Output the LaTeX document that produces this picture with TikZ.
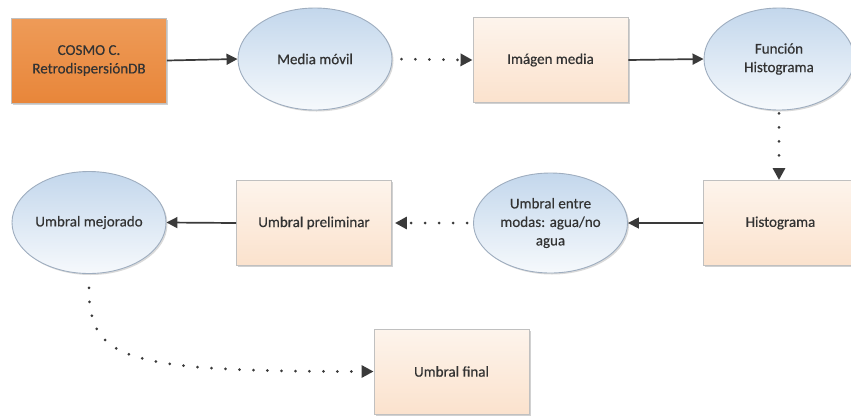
\documentclass[tikz,border=0pt]{standalone}
\usepackage{fontspec}
\setmainfont{Carlito}
\newfontfamily\labelfont[FakeBold=0.35]{Carlito}
\usetikzlibrary{arrows.meta,shadows,shapes.geometric}

\definecolor{txt}{HTML}{333333}
\definecolor{wire}{HTML}{3A3A3A}
\definecolor{boxline}{HTML}{C0C0C0}
\definecolor{boxtop}{HTML}{FDF4EC}
\definecolor{boxbot}{HTML}{FBE2CD}
\definecolor{elline}{HTML}{9EADBF}
\definecolor{eltop}{HTML}{C3D7EC}
\definecolor{elbot}{HTML}{F6F9FC}
\definecolor{ortop}{HTML}{EE9B58}
\definecolor{ormid}{HTML}{F6C193}
\definecolor{orbot}{HTML}{E8863A}

\tikzset{
  basefont/.style={font=\labelfont\fontsize{15}{18.5}\selectfont, text=txt, align=center},
  procbox/.style={basefont, rectangle, draw=boxline, line width=0.9pt,
    minimum width=155, minimum height=85, inner sep=2pt,
    top color=boxtop, bottom color=boxbot,
    drop shadow={shadow xshift=1.5pt, shadow yshift=-1.5pt, opacity=0.18, fill=black}},
  srcbox/.style={procbox, top color=ortop, middle color=ormid, bottom color=orbot},
  opell/.style={basefont, ellipse, draw=elline, line width=0.9pt,
    minimum width=154, minimum height=102, inner sep=0pt,
    top color=eltop, bottom color=elbot,
    drop shadow={shadow xshift=1.5pt, shadow yshift=-1.5pt, opacity=0.15, fill=black}},
  solidarrow/.style={draw=wire, line width=1.7pt, -{Triangle[length=11pt,width=11pt]}},
  dotarrow/.style={draw=wire, line width=3pt, line cap=round,
    dash pattern=on 0pt off 14pt, -{Triangle[length=12pt,width=12pt]}},
}

\begin{document}
\begin{tikzpicture}[x=1pt,y=-1pt]
  \useasboundingbox (0,0) rectangle (851,416);
  \clip (0,0) rectangle (851,416);

  % top row
  \node[srcbox] (cosmo) at (89,60.5) {COSMO C.\\RetrodispersiónDB};
  \node[opell] (media) at (315,59) {Media móvil};
  \node[procbox] (imagen) at (550.5,60) {Imágen media};
  \node[opell, minimum width=150] (funcion) at (779,59) {Función\\Histograma};

  % middle row
  \node[procbox] (hist) at (780.5,223) {Histograma};
  \node[opell, minimum height=100] (entre) at (550.5,223) {Umbral entre\\modas: agua/no\\agua};
  \node[procbox] (prelim) at (314,223) {Umbral preliminar};
  \node[opell] (mejorado) at (89,222.5) {Umbral mejorado};

  % bottom
  \node[procbox] (final) at (451.5,371.5) {Umbral final};

  % connectors
  \draw[solidarrow] (cosmo.east) -- (media.west);
  \draw[dotarrow, shorten <=9pt] (media.east) -- (imagen.west);
  \draw[solidarrow] (imagen.east) -- (funcion.west);
  \draw[dotarrow, shorten <=3pt] (funcion.south) -- (funcion.south |- hist.north);
  \draw[solidarrow] (hist.west) -- (entre.east);
  \draw[dotarrow, shorten <=6pt, shorten >=3pt] (entre.west) -- (prelim.east);
  \draw[solidarrow] (prelim.west) -- (mejorado.east);
  \draw[dotarrow] ([yshift=-14pt]mejorado.south) .. controls +(0,72) and +(-250,0) .. (final.west);
\end{tikzpicture}
\end{document}
